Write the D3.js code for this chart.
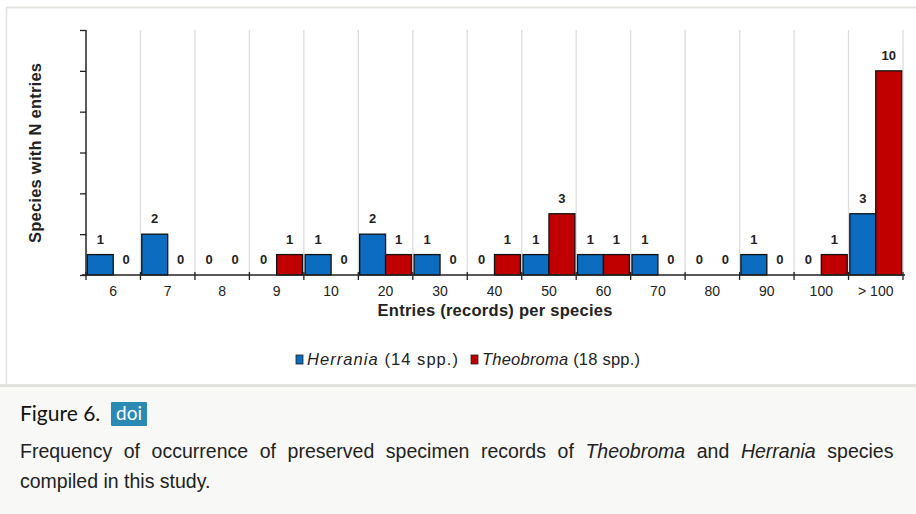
<!DOCTYPE html>
<html><head><meta charset="utf-8">
<script src="https://cdn.jsdelivr.net/npm/d3@7"></script>
<style>
html,body{margin:0;padding:0;background:#fff;}
svg{display:block;}
</style></head>
<body>
<svg id="c" width="916" height="514"></svg>
<script>
const categories = ["6","7","8","9","10","20","30","40","50","60","70","80","90","100","> 100"];
const herrania  = [1,2,0,0,1,2,1,0,1,1,1,0,1,0,3];
const theobroma = [0,0,0,1,0,1,0,1,3,1,0,0,0,1,10];
const seriesNames = ["Herrania","Theobroma"];
const seriesNotes = [" (14 spp.)"," (18 spp.)"];
const yTicks = [0,2,4,6,8,10,12];

const svg = d3.select("#c");
const W = 916, H = 514;
const SANS = "Liberation Sans, Arial, Helvetica, sans-serif";

// page frame
svg.append("rect").attr("x",0).attr("y",0).attr("width",W).attr("height",H).attr("fill","#fff");
svg.append("rect").attr("x",0).attr("y",386).attr("width",W).attr("height",H-386).attr("fill","#f8f8f6");
svg.append("line").attr("x1",6).attr("x2",W).attr("y1",7.5).attr("y2",7.5).attr("stroke","#e3e3df").attr("stroke-width",2);
svg.append("line").attr("x1",6.5).attr("x2",6.5).attr("y1",7).attr("y2",386).attr("stroke","#e3e3df").attr("stroke-width",1.5);
svg.append("line").attr("x1",0).attr("x2",W).attr("y1",385.5).attr("y2",385.5).attr("stroke","#e2e2de").attr("stroke-width",3);

const x0 = 86, x1 = 903, yTop = 30, yBase = 275;
const x = d3.scaleBand().domain(categories).range([x0,x1]).paddingInner(0).paddingOuter(0);
const y = d3.scaleLinear().domain([0,12]).range([yBase,yTop]);
const inner = d3.scaleBand().domain([0,1]).range([0,x.bandwidth()]).paddingOuter(0.05).paddingInner(0);

// gridlines at band boundaries
const bounds = categories.map(c=>x(c)).concat([x1]);
svg.append("g").selectAll("line").data(bounds.slice(1)).join("line")
  .attr("x1",d=>d).attr("x2",d=>d).attr("y1",yTop).attr("y2",yBase)
  .attr("stroke","#dcdcdc").attr("stroke-width",1.3);

const data = categories.map((c,i)=>({c, vals:[herrania[i],theobroma[i]]}));
const colors = ["#0b6cc0","#c00000"];

const groups = svg.append("g").selectAll("g").data(data).join("g")
  .attr("transform",d=>`translate(${x(d.c)},0)`);
groups.selectAll("rect").data(d=>d.vals.map((v,k)=>({v,k}))).join("rect")
  .filter(d=>d.v>0)
  .attr("x",d=>inner(d.k)).attr("width",inner.bandwidth())
  .attr("y",d=>y(d.v)).attr("height",d=>yBase-y(d.v))
  .attr("fill",d=>colors[d.k]).attr("stroke","#111").attr("stroke-width",1.3);
groups.selectAll("text").data(d=>d.vals.map((v,k)=>({v,k}))).join("text")
  .attr("x",d=>inner(d.k)+inner.bandwidth()/2).attr("y",d=>y(d.v)-11)
  .attr("text-anchor","middle").attr("font-family",SANS)
  .attr("font-weight","bold").attr("font-size",13).attr("fill","#222").text(d=>d.v);

// y axis
const yAxis = d3.axisLeft(y).tickValues(yTicks).tickSize(6).tickFormat("");
const gy = svg.append("g").attr("transform",`translate(${x0},0)`).call(yAxis);
gy.select(".domain").attr("stroke","#222").attr("stroke-width",1.5).attr("d",`M-0,${yTop}V${yBase}`);
gy.selectAll(".tick line").attr("stroke","#222").attr("stroke-width",1.3);

// x axis baseline and ticks
svg.append("line").attr("x1",x0-4).attr("x2",x1+2).attr("y1",yBase).attr("y2",yBase).attr("stroke","#222").attr("stroke-width",1.5);
svg.append("g").selectAll("line").data(bounds).join("line")
  .attr("x1",d=>d).attr("x2",d=>d).attr("y1",yBase-3).attr("y2",yBase+5)
  .attr("stroke","#222").attr("stroke-width",1.3);
svg.append("g").selectAll("text").data(categories).join("text")
  .attr("x",d=>x(d)+x.bandwidth()/2).attr("y",296)
  .attr("text-anchor","middle").attr("font-family",SANS)
  .attr("font-size",14).attr("fill","#222").text(d=>d);

// axis titles
svg.append("text").attr("x",495).attr("y",316).attr("text-anchor","middle")
  .attr("font-family",SANS).attr("font-weight","bold")
  .attr("font-size",16.5).attr("fill","#222").attr("textLength",235).attr("lengthAdjust","spacing")
  .text("Entries (records) per species");
svg.append("text").attr("transform","translate(41,153) rotate(-90)").attr("text-anchor","middle")
  .attr("font-family",SANS).attr("font-weight","bold")
  .attr("font-size",16.5).attr("fill","#222").attr("textLength",180).attr("lengthAdjust","spacing")
  .text("Species with N entries");

// legend
const legX = [296,471];
const legW = [151,158];
seriesNames.forEach((n,k)=>{
  svg.append("rect").attr("x",legX[k]).attr("y",355).attr("width",7).attr("height",9)
    .attr("fill",colors[k]).attr("stroke","#222").attr("stroke-width",0.8);
  const t = svg.append("text").attr("x",legX[k]+11).attr("y",364.5)
    .attr("font-family",SANS).attr("font-size",16.5).attr("fill","#222")
    .attr("textLength",legW[k]).attr("lengthAdjust","spacing");
  t.append("tspan").attr("font-style","italic").text(n);
  t.append("tspan").text(seriesNotes[k]);
});

// caption
svg.append("text").attr("x",20).attr("y",421).attr("font-family","Lato, 'Open Sans', sans-serif")
  .attr("font-size",21).attr("fill","#111").text("Figure 6.");
svg.append("rect").attr("x",111).attr("y",402).attr("width",36).attr("height",24).attr("fill","#2a8ab4").attr("rx",1);
svg.append("text").attr("x",129).attr("y",419.5).attr("text-anchor","middle")
  .attr("font-family","Lato, 'Open Sans', sans-serif").attr("font-size",19).attr("fill","#fff").text("doi");
const cap1 = svg.append("text").attr("x",20).attr("y",458).attr("font-family",SANS)
  .attr("font-size",19.5).attr("fill","#222");
cap1.append("tspan").text("Frequency of occurrence of preserved specimen records of ");
cap1.append("tspan").attr("font-style","italic").text("Theobroma");
cap1.append("tspan").text(" and ");
cap1.append("tspan").attr("font-style","italic").text("Herrania");
cap1.append("tspan").text(" species");
// justify first line to the column width
const len1 = cap1.node().getComputedTextLength();
const spaces = 14;
cap1.attr("word-spacing", Math.max(0,(892-len1)/spaces));
svg.append("text").attr("x",20).attr("y",488).attr("font-family",SANS)
  .attr("font-size",19.5).attr("fill","#222").text("compiled in this study.");
</script>
</body></html>
